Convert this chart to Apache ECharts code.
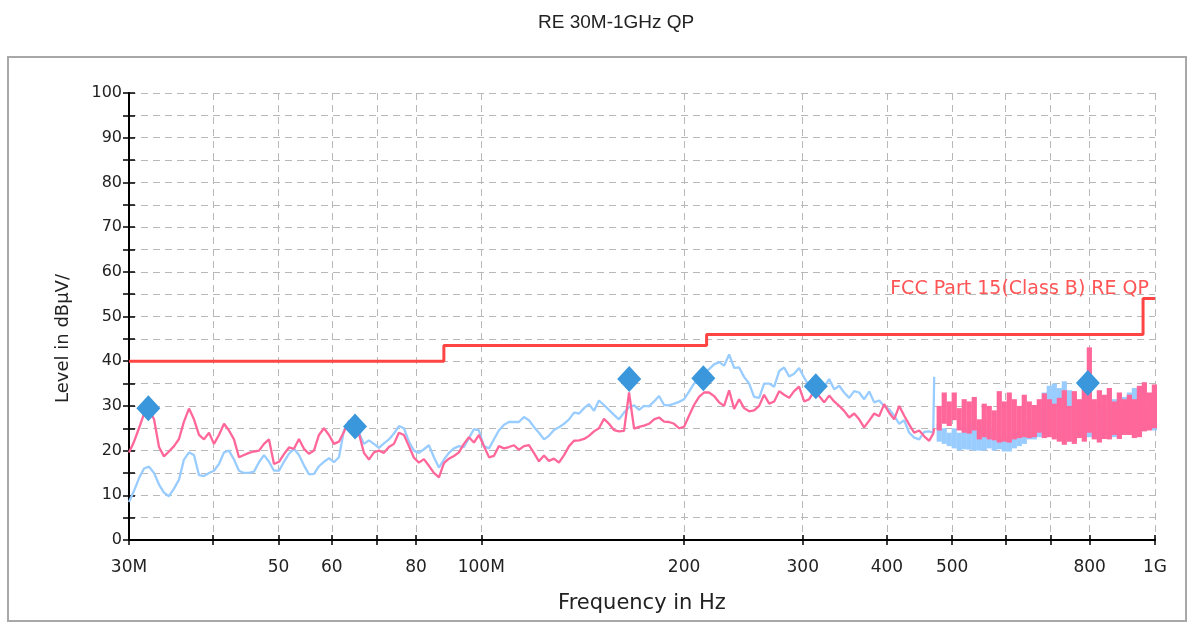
<!DOCTYPE html>
<html>
<head>
<meta charset="utf-8">
<title>RE 30M-1GHz QP</title>
<script src="https://cdn.jsdelivr.net/npm/echarts@6/dist/echarts.min.js"></script>
<style>
  html, body { margin: 0; padding: 0; background: #fff; }
  #chart { width: 1194px; height: 626px; }
</style>
</head>
<body>
<div id="chart"></div>
<script>
// sweep below ~475 MHz, frequency in MHz
const freqMHz = [
  30.00, 30.52, 31.04, 31.58, 32.12, 32.68, 33.24, 33.81, 34.39, 34.99,
  35.59, 36.20, 36.83, 37.46, 38.11, 38.76, 39.43, 40.11, 40.80, 41.51,
  42.22, 42.95, 43.69, 44.44, 45.21, 45.99, 46.78, 47.59, 48.41, 49.24,
  50.09, 50.95, 51.83, 52.72, 53.63, 54.55, 55.49, 56.45, 57.42, 58.41,
  59.42, 60.44, 61.48, 62.54, 63.62, 64.71, 65.83, 66.96, 68.12, 69.29,
  70.48, 71.70, 72.93, 74.19, 75.47, 76.77, 78.09, 79.44, 80.81, 82.20,
  83.62, 85.06, 86.53, 88.02, 89.53, 91.08, 92.65, 94.24, 95.87, 97.52,
  99.20, 100.9, 102.7, 104.4, 106.2, 108.1, 109.9, 111.8, 113.7, 115.7,
  117.7, 119.7, 121.8, 123.9, 126.0, 128.2, 130.4, 132.7, 135.0, 137.3,
  139.7, 142.1, 144.5, 147.0, 149.5, 152.1, 154.7, 157.4, 160.1, 162.9,
  165.7, 168.6, 171.5, 174.4, 177.4, 180.5, 183.6, 186.8, 190.0, 193.3,
  196.6, 200.0, 203.4, 206.9, 210.5, 214.1, 217.8, 221.6, 225.4, 229.3,
  233.3, 237.3, 241.4, 245.5, 249.8, 254.1, 258.5, 262.9, 267.5, 272.1,
  276.8, 281.5, 286.4, 291.3, 296.3, 301.5, 306.7, 311.9, 317.3, 322.8,
  328.4, 334.0, 339.8, 345.6, 351.6, 357.7, 363.8, 370.1, 376.5, 383.0,
  389.6, 396.3, 403.2, 410.1, 417.2, 424.4, 431.7, 439.1, 446.7, 454.4,
  462.3, 468.6, 470.2
];
const pinkLevel = [
  19.6, 22.0, 25.0, 28.2, 29.2, 27.0, 20.8, 18.7, 19.8, 21.0,
  22.6, 26.5, 29.4, 27.0, 23.5, 22.5, 24.0, 21.5, 23.5, 26.0,
  24.5, 22.5, 18.5, 19.0, 19.5, 19.8, 20.0, 21.5, 22.5, 17.0,
  17.5, 19.2, 20.7, 20.4, 22.6, 20.4, 19.3, 20.0, 23.5, 25.0,
  23.5, 21.5, 22.0, 24.2, 26.5, 26.0, 23.8, 19.5, 18.0, 19.6,
  20.0, 19.5, 20.8, 21.5, 24.0, 23.5, 21.0, 18.4, 17.3, 18.1,
  16.6, 15.0, 14.0, 17.2, 18.2, 18.8, 19.6, 21.5, 23.0, 21.8,
  23.5, 21.0, 18.5, 18.8, 21.0, 20.5, 20.8, 21.2, 20.2, 21.0,
  21.2, 19.5, 17.6, 18.9, 17.7, 18.2, 17.3, 19.0, 21.0, 22.2,
  22.3, 22.6, 23.3, 24.3, 25.0, 27.1, 26.0, 24.6, 24.3, 24.4,
  33.0, 24.9, 25.3, 25.6, 26.0, 27.0, 27.4, 26.5, 26.4, 26.0,
  25.0, 25.3, 27.8, 30.2, 32.0, 33.0, 33.0, 32.2, 30.8, 30.0,
  33.5, 29.3, 31.5, 29.5, 28.8, 29.0, 30.0, 32.5, 30.5, 31.0,
  33.3, 32.5, 31.8, 33.3, 34.3, 31.0, 31.5, 33.3, 32.2, 30.8,
  32.3, 31.0, 30.0, 28.9, 27.4, 28.3, 27.0, 25.2, 26.7, 28.3,
  27.7, 30.4, 28.4, 27.0, 30.0, 27.8, 25.8, 24.0, 24.5, 23.2,
  22.2, 23.8, 25.0
];
const blueLevel = [
  8.5, 11.0, 13.8, 16.0, 16.4, 15.0, 12.4, 10.6, 9.8, 11.5,
  13.5, 18.0, 19.6, 19.0, 14.5, 14.3, 15.0, 15.5, 17.0, 19.6,
  20.0, 18.0, 15.5, 15.0, 15.0, 15.3, 17.4, 19.0, 17.5, 15.5,
  15.5, 17.5, 19.3, 20.4, 19.0, 16.7, 14.7, 14.8, 16.5, 17.5,
  18.3, 17.4, 18.5, 24.5, 26.6, 27.0, 24.0, 21.5, 22.3, 21.5,
  20.6, 21.6, 22.5, 23.8, 25.5, 25.0, 22.0, 20.0, 19.5, 20.3,
  21.2, 18.5, 16.2, 18.0, 19.5, 20.5, 21.0, 20.8, 22.8, 24.8,
  24.5, 21.0, 20.5, 22.5, 24.5, 25.8, 26.4, 26.4, 26.4, 27.5,
  26.8, 25.3, 24.0, 22.5, 23.3, 24.6, 25.2, 26.0, 27.0, 28.5,
  28.3, 29.5, 30.4, 28.9, 31.2, 30.2, 29.1, 28.0, 27.0, 28.5,
  29.7, 30.1, 29.1, 30.0, 29.9, 31.0, 32.2, 30.2, 30.1, 30.5,
  30.9, 31.5, 33.2, 35.0, 36.8, 37.5, 38.2, 39.3, 39.8, 39.0,
  41.5, 38.5, 38.6, 36.5, 35.0, 32.0, 31.8, 35.0, 35.0, 34.3,
  37.8, 38.6, 36.6, 37.2, 38.5, 36.3, 34.5, 33.5, 34.5, 34.3,
  36.0, 33.7, 34.5, 33.0, 31.8, 33.3, 33.0, 31.5, 33.2, 30.8,
  31.2, 29.9, 29.2, 27.8, 26.0, 26.8, 24.0, 22.9, 22.5, 24.2,
  24.3, 24.0, 36.5
];

// noisy band above ~475 MHz: min/max of each sweep bin
const bandFreq = [
  478.3, 486.6, 495.0, 503.5, 512.2, 521.0, 530.0, 539.2, 548.5, 557.9,
  567.5, 577.3, 587.3, 597.4, 607.7, 618.2, 628.9, 639.7, 650.7, 662.0,
  673.4, 685.0, 696.8, 708.8, 721.1, 733.5, 746.1, 759.0, 772.1, 785.4,
  799.0, 812.7, 826.8, 841.0, 855.5, 870.3, 885.3, 900.6, 916.1, 931.9,
  948.0, 964.3, 981.0, 997.9
];
const pinkHigh = [
  30.0, 33.0, 31.0, 33.0, 29.5, 31.5, 31.0, 32.0, 27.0, 30.5,
  30.0, 29.0, 33.3, 31.0, 33.0, 31.5, 30.0, 32.5, 31.0, 30.2,
  31.5, 32.8, 31.5, 30.5, 31.8, 33.5, 30.0, 33.3, 31.5, 34.0,
  43.1, 31.5, 33.5, 32.5, 34.0, 31.0, 33.0, 31.5, 32.5, 31.5,
  34.5, 35.3, 33.0, 34.8
];
const pinkLow = [
  24.5, 26.0, 25.5, 26.8, 24.5, 24.0, 23.8, 24.5, 22.5, 23.0,
  22.5, 22.3, 21.8, 22.0, 21.8, 22.5, 22.8, 23.0, 22.8, 23.0,
  24.0, 22.8, 23.0, 22.5, 22.0, 21.3, 22.0, 21.5, 22.8, 22.0,
  24.0, 22.5, 21.8, 22.6, 22.5, 23.5, 22.6, 23.5, 23.5, 22.8,
  23.0, 24.3, 24.5, 25.0
];
const blueHigh = [
  26.0, 25.0, 24.0, 25.0, 24.0, 25.5, 26.5, 25.5, 25.0, 27.0,
  25.0, 24.0, 23.5, 23.0, 24.0, 24.0, 25.0, 26.0, 27.0, 29.0,
  30.0, 33.0, 34.5, 35.0, 34.0, 35.5, 33.5, 32.0, 31.0, 32.0,
  33.0, 30.0, 29.0, 30.0, 31.0, 31.5, 30.0, 32.0, 33.0, 34.0,
  31.0, 30.0, 31.0, 33.0
];
const blueLow = [
  22.0, 21.5, 21.0, 20.5, 20.0, 20.3, 20.2, 20.0, 20.0, 20.0,
  20.5, 20.0, 20.3, 19.8, 19.8, 20.5, 21.0, 21.5, 22.5, 22.5,
  23.0, 23.5, 24.0, 23.5, 23.0, 22.0, 22.0, 22.0, 23.0, 23.0,
  23.0, 23.0, 23.0, 23.5, 23.0, 23.0, 24.0, 24.5, 24.0, 23.5,
  24.0, 24.5, 25.0, 24.5
];

// FCC Part 15 class B QP limit
const limitName = 'FCC Part 15(Class B) RE QP';
const limitFreq = [30, 88, 88, 216, 216, 960, 960, 1000];
const limitLevel = [40, 40, 43.5, 43.5, 46, 46, 54, 54];

// final QP measurement points
const markerFreq = [32.05, 64.96, 165.8, 213.6, 313.7, 795];
const markerLevel = [29.5, 25.4, 36.0, 36.2, 34.4, 35.1];

// axis ticks
const tickFreq = [30, 40, 50, 60, 70, 80, 100, 200, 300, 400, 500, 600, 700, 800, 1000];
const labelFreq = [30, 50, 60, 80, 100, 200, 300, 400, 500, 800, 1000];
const labelText = ['30M', '50', '60', '80', '100M', '200', '300', '400', '500', '800', '1G'];

const chart = echarts.init(document.getElementById('chart'));

const font = 'DejaVu Sans, sans-serif';
const titleFont = 'Liberation Sans, Arial, sans-serif';
const dash = { type: [7, 5], color: '#b8b8b8', width: 1 };

const freqLabel = v => {
  const i = labelFreq.findIndex(f => Math.abs(f - v) / f < 0.01);
  return i >= 0 ? labelText[i] : '';
};

// vertical bar from low to high for the dense part of the sweep
const bandItem = color => (params, api) => {
  const top = api.coord([api.value(0), api.value(1)]);
  const bot = api.coord([api.value(0), api.value(2)]);
  return {
    type: 'rect',
    shape: { x: top[0] - 2.6, y: top[1], width: 5.2, height: bot[1] - top[1] },
    style: { fill: color }
  };
};

const baseX = { type: 'log', logBase: 10, min: 30, max: 1000, position: 'bottom', gridIndex: 0 };
const baseY = { type: 'value', min: 0, max: 100, interval: 5, position: 'left', gridIndex: 0 };

const option = {
  animation: false,
  textStyle: { fontFamily: font },
  title: {
    text: 'RE 30M-1GHz QP',
    left: 533,
    top: 8,
    textStyle: { fontSize: 19, fontWeight: 'normal', color: '#222', fontFamily: titleFont }
  },
  graphic: [{
    type: 'rect',
    shape: { x: 8, y: 57, width: 1178, height: 564 },
    style: { fill: 'none', stroke: '#a8a8a8', lineWidth: 2 },
    silent: true,
    z: -1
  }],
  grid: { left: 129, right: 39, top: 93, bottom: 86 },
  xAxis: [
    Object.assign({}, baseX, {
      axisLine: { lineStyle: { color: '#000', width: 2 } },
      axisTick: { customValues: tickFreq, length: 5, lineStyle: { color: '#000', width: 1.5 } },
      axisLabel: {
        customValues: labelFreq, formatter: freqLabel, margin: 19,
        fontSize: 17, color: '#222', fontFamily: font
      },
      splitLine: { show: true, lineStyle: dash },
      minorTick: { show: false },
      name: 'Frequency in Hz',
      nameLocation: 'middle',
      nameGap: 53,
      nameTextStyle: { fontSize: 21, color: '#222', fontFamily: font }
    }),
    Object.assign({}, baseX, {
      axisLine: { show: false },
      axisTick: { customValues: tickFreq, inside: true, length: 5, lineStyle: { color: '#000', width: 1.5 } },
      axisLabel: { show: false },
      splitLine: { show: false }
    })
  ],
  yAxis: [
    Object.assign({}, baseY, {
      axisLine: { show: true, lineStyle: { color: '#000', width: 2 } },
      axisTick: { show: true, length: 6, lineStyle: { color: '#000', width: 1.5 } },
      axisLabel: {
        formatter: v => (v % 10 === 0 ? String(v) : ''),
        margin: 7, fontSize: 16, color: '#222', fontFamily: font
      },
      splitLine: { show: true, lineStyle: dash },
      name: 'Level in dBµV/',
      nameLocation: 'middle',
      nameGap: 57,
      nameTextStyle: { fontSize: 18, color: '#222', fontFamily: font, padding: [0, 44, 0, 0] }
    }),
    Object.assign({}, baseY, {
      axisLine: { show: false },
      axisTick: { show: true, inside: true, length: 6, lineStyle: { color: '#000', width: 1.5 } },
      axisLabel: { show: false },
      splitLine: { show: false }
    })
  ],
  series: [
    {
      name: 'blue',
      type: 'line',
      data: freqMHz.map((f, i) => [f, blueLevel[i]]),
      showSymbol: false,
      lineStyle: { color: '#99ccff', width: 2.3 },
      z: 2
    },
    {
      name: 'blue band',
      type: 'custom',
      renderItem: bandItem('#99ccff'),
      data: bandFreq.map((f, i) => [f, blueHigh[i], blueLow[i]]),
      encode: { x: 0, y: [1, 2] },
      z: 2
    },
    {
      name: 'pink',
      type: 'line',
      data: freqMHz.map((f, i) => [f, pinkLevel[i]]),
      showSymbol: false,
      lineStyle: { color: '#ff6699', width: 2.3 },
      z: 3
    },
    {
      name: 'pink band',
      type: 'custom',
      renderItem: bandItem('#ff6699'),
      data: bandFreq.map((f, i) => [f, pinkHigh[i], pinkLow[i]]),
      encode: { x: 0, y: [1, 2] },
      z: 3
    },
    {
      name: limitName,
      type: 'line',
      data: limitFreq.map((f, i) => [f, limitLevel[i]]),
      showSymbol: false,
      lineStyle: { color: '#ff4444', width: 3 },
      endLabel: {
        show: true,
        formatter: limitName,
        align: 'right',
        verticalAlign: 'bottom',
        distance: 0,
        offset: [-6, 0],
        color: '#ff5555',
        fontSize: 19,
        fontFamily: font
      },
      z: 4
    },
    {
      name: 'markers',
      type: 'scatter',
      data: markerFreq.map((f, i) => [f, markerLevel[i]]),
      symbol: 'diamond',
      symbolSize: [24, 26],
      itemStyle: { color: '#3b97dc', opacity: 1 },
      z: 5
    }
  ]
};

chart.setOption(option);
</script>
</body>
</html>
